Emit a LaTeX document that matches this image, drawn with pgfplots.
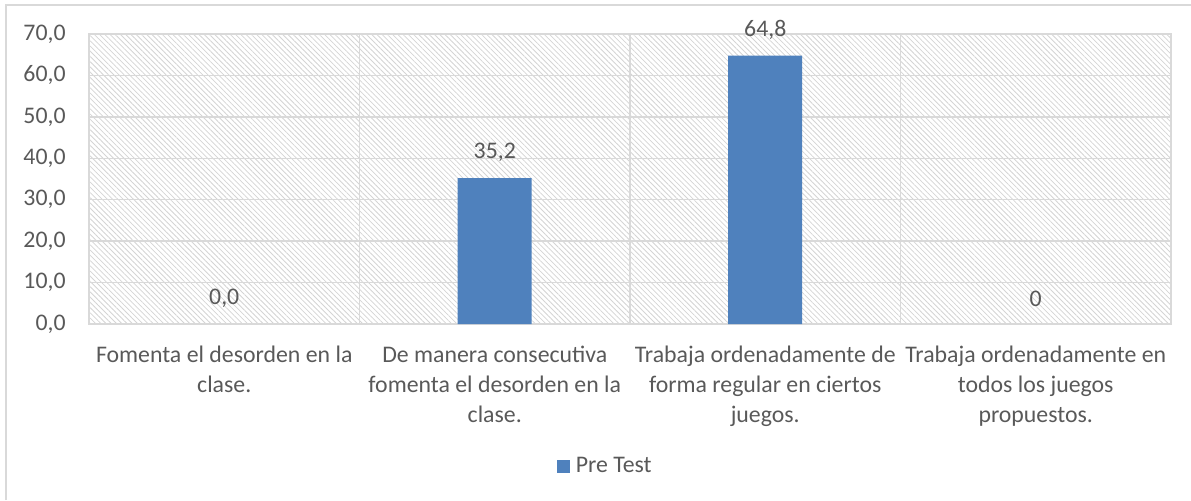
\documentclass[border=0pt]{standalone}
\usepackage{fontspec}
\setmainfont{Carlito}
\usepackage{pgfplots}
\pgfplotsset{compat=1.18}
\usetikzlibrary{patterns.meta}
\definecolor{barblue}{HTML}{4F81BD}
\definecolor{txt}{HTML}{595959}
\definecolor{gridc}{HTML}{D9D9D9}
\definecolor{hatch}{HTML}{D4D4D4}
\pgfplotstableread{
x y lab
1 35.2 {35,2}
2 64.8 {64,8}
}\bartable
\pgfplotstableread{
x y lab
0 0 {0,0}
3 0 {0}
}\zerotable
\begin{document}
\begin{tikzpicture}
\useasboundingbox (0,0) rectangle (595.5pt,250pt);
\draw[gridc, line width=0.75pt] (3pt,0) -- (3pt,247.5pt) -- (595.5pt,247.5pt);
\begin{axis}[
  at={(44.5pt,88pt)}, anchor=south west,
  scale only axis, width=541pt, height=145pt,
  xmin=-0.5, xmax=3.5, ymin=0, ymax=70,
  ytick={0,10,...,70},
  xtick={0,1,2,3},
  xticklabels={{\strut Fomenta el desorden en la\\clase.},{\strut De manera consecutiva\\fomenta el desorden en la\\clase.},{\strut Trabaja ordenadamente de\\forma regular en ciertos\\juegos.},{\strut Trabaja ordenadamente en\\todos los juegos\\propuestos.}},
  minor xtick={0.5,1.5,2.5},
  xminorgrids, ymajorgrids,
  major tick length=0pt, minor tick length=0pt,
  grid style={gridc, line width=0.75pt},
  minor grid style={gridc, line width=0.75pt},
  axis line style={gridc, line width=0.75pt},
  axis background/.style={pattern={Lines[angle=-45,distance=1.85pt,line width=0.4pt]}, pattern color=hatch},
  /pgf/number format/assume math mode=true,
  /pgf/number format/.cd, fixed, fixed zerofill, precision=1, use comma, 1000 sep={},
  /pgfplots/.cd,
  tick label style={font=\fontsize{11.9}{15}\selectfont, text=txt},
  yticklabel style={anchor=east, inner sep=0pt, xshift=-11.5pt},
  xticklabel style={anchor=north, inner sep=0pt, align=center, yshift=-8.5pt},
  ybar, bar width=37pt, bar shift=0pt,
  point meta=explicit symbolic,
  nodes near coords,
  nodes near coords style={font=\fontsize{11.9}{15}\selectfont, text=txt, anchor=center, yshift=12.75pt},
  legend style={at={(0.478,-0.49)}, anchor=center, draw=none, fill=none, font=\fontsize{11.9}{15}\selectfont, text=txt, inner sep=0pt},
  legend image code/.code={\fill[barblue] (0pt,-3.25pt) rectangle (6.5pt,3.25pt);},
]
\addplot[fill=barblue, draw=none] table[x=x, y=y, meta=lab] {\bartable};
\addlegendentry{\hspace{1pt}Pre Test}
\addplot[fill=none, draw=none, forget plot] table[x=x, y=y, meta=lab] {\zerotable};
\end{axis}
\end{tikzpicture}
\end{document}
